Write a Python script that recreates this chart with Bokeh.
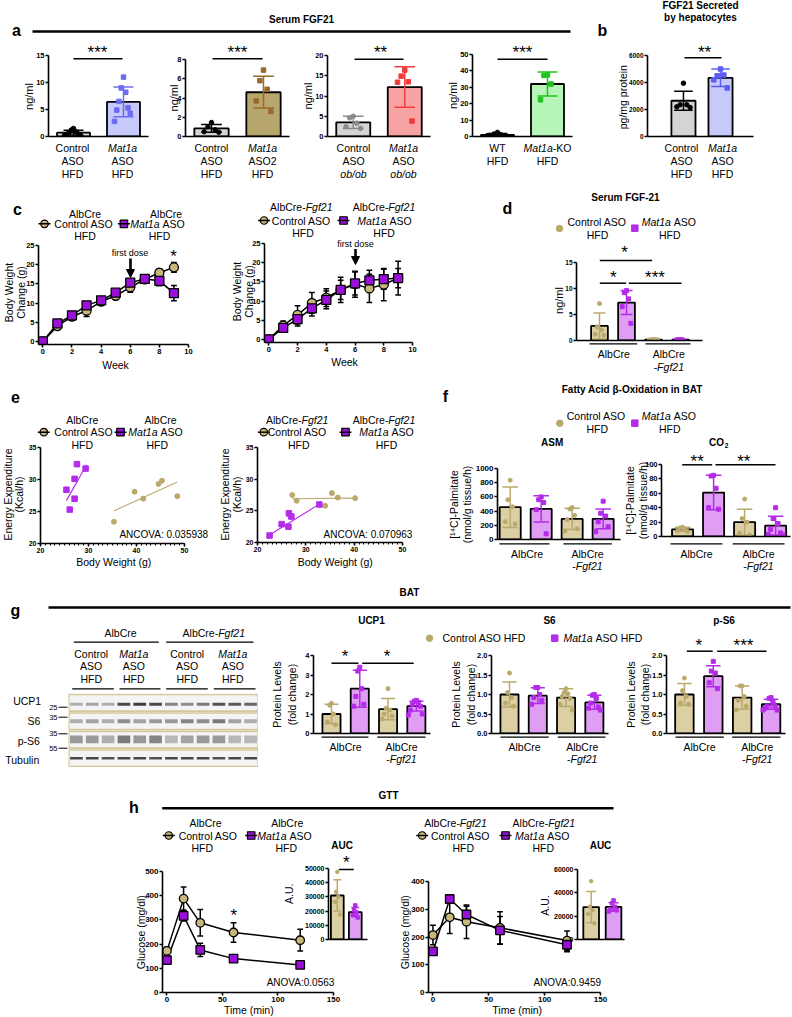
import math
from bokeh.plotting import figure
from bokeh.models import Range1d, FixedTicker, Arrow, NormalHead
from bokeh.layouts import column
from bokeh.embed import file_html
from bokeh.resources import INLINE
from bokeh.core.properties import value

# ======================= DATA =======================
# panel a  (Serum FGF21, ng/ml)
a1_means = [0.7, 6.4]; a1_sd = [0.45, 2.75]
a1_ctrl = [1.5, 1.2, 0.9, 0.7, 0.5, 0.4, 0.3, 0.2]
a1_mat = [11.0, 9.0, 8.2, 6.5, 5.3, 4.9, 4.3, 2.8]
a1_yticks = [0, 5, 10, 15]
a2_means = [0.85, 4.6]; a2_sd = [0.4, 1.65]
a2_ctrl = [1.45, 1.0, 0.7, 0.5, 0.45]
a2_mat = [6.9, 5.8, 4.9, 3.7, 2.6]
a2_yticks = [0, 2, 4, 6, 8]
a3_means = [3.5, 12.2]; a3_sd = [1.5, 5.0]
a3_ctrl = [5.0, 4.6, 3.3, 2.4, 2.0]
a3_mat = [16.4, 14.9, 13.5, 13.4, 3.8]
a3_yticks = [0, 5, 10, 15, 20]
a4_means = [1.0, 32.0]; a4_sd = [0.8, 7.3]
a4_ctrl = [2.5, 1.5, 1.0, 0.6, 0.5, 0.4]
a4_mat = [37.6, 37.2, 32.0, 22.4]
a4_yticks = [0, 10, 20, 30, 40, 50]
# panel b (pg/mg protein)
b_means = [2650, 4350]; b_sd = [700, 650]
b_ctrl = [3950, 2350, 2350, 2200, 2150]
b_mat = [5000, 4500, 4550, 4200, 3600]
b_yticks = [0, 2000, 4000, 6000]
# panel c (body weight change, g)
c_weeks = [0, 1, 2, 3, 4, 5, 6, 7, 8, 9]
c1_ctrl = [0, 4.0, 6.5, 8.0, 10.4, 11.9, 14.1, 16.2, 17.9, 19.3]
c1_ctrl_err = [0, 0.5, 1.0, 1.5, 0.8, 1.0, 1.3, 0.6, 1.0, 1.3]
c1_mat = [0, 4.7, 6.8, 9.4, 10.7, 12.7, 15.3, 16.3, 15.8, 12.6]
c1_mat_err = [0, 0.4, 0.6, 0.7, 0.6, 0.7, 0.8, 0.6, 1.3, 2.0]
c2_ctrl = [0, 3.6, 6.4, 9.5, 10.9, 12.9, 14.4, 13.3, 14.3, 16.0]
c2_ctrl_err = [0, 1.2, 2.4, 2.7, 2.3, 3.3, 3.4, 3.7, 4.2, 4.4]
c2_mat = [0, 3.0, 5.3, 8.1, 10.3, 12.9, 14.6, 15.4, 15.7, 16.0]
c2_mat_err = [0, 1.0, 1.8, 2.0, 2.3, 2.5, 3.0, 2.6, 2.6, 2.5]
c_yticks = [0, 5, 10, 15, 20, 25]
c_xticks = [0, 2, 4, 6, 8, 10]
# panel d (Serum FGF-21, ng/ml): AlbCre ctrl, AlbCre Mat1a, Fgf21 ctrl, Fgf21 Mat1a
d_means = [2.8, 7.3, 0.15, 0.15]; d_sd = [2.5, 2.3, 0.05, 0.05]
d_pts = [[7.1, 2.6, 2.0, 1.2, 1.0], [9.6, 9.2, 8.0, 6.5, 3.3],
         [0.2, 0.15, 0.15, 0.1, 0.1], [0.15, 0.15, 0.1, 0.1]]
d_yticks = [0, 5, 10, 15]
# panel e (energy expenditure vs body weight)
e1_ctrl_x = [35.3, 39.6, 41.4, 44.6, 45.3, 48.5]; e1_ctrl_y = [23.4, 28.1, 27.0, 29.3, 29.8, 27.4]
e1_mat_x = [25.4, 26.1, 27.1, 27.1, 27.6, 29.4]; e1_mat_y = [28.4, 25.3, 30.1, 27.0, 32.4, 31.7]
e1_ctrl_fit_x = [35.3, 48.5]; e1_ctrl_fit_y = [25.1, 29.6]
e1_mat_fit_x = [25.4, 29.6]; e1_mat_fit_y = [26.7, 32.3]
e2_ctrl_x = [27.2, 28.1, 34.0, 35.4, 36.6, 40.2]; e2_ctrl_y = [27.5, 26.6, 25.8, 27.8, 27.1, 27.0]
e2_mat_x = [22.5, 25.0, 26.4, 26.5, 27.0, 32.8]; e2_mat_y = [21.1, 22.9, 22.5, 24.6, 24.1, 26.0]
e2_ctrl_fit_x = [27.2, 40.2]; e2_ctrl_fit_y = [26.9, 27.0]
e2_mat_fit_x = [22.3, 32.9]; e2_mat_fit_y = [21.1, 26.1]
e_yticks = [20, 25, 30, 35]
e_xticks = [20, 30, 40, 50]
# panel f (fatty acid oxidation)
asm_means = [455, 430, 290, 290]; asm_sd = [285, 185, 150, 140]
asm_pts = [[835, 560, 460, 250, 220], [600, 560, 520, 420, 80],
           [450, 430, 340, 280, 150, 120], [540, 370, 330, 250, 180, 110]]
asm_yticks = [0, 200, 400, 600, 800, 1000]
co2_means = [10, 61, 20, 15]; co2_sd = [3, 24, 18, 13]
co2_pts = [[13, 12, 10, 8, 7], [85, 84, 67, 40, 38], [52, 25, 20, 5, 2], [40, 25, 18, 10, 5, 3, 2]]
co2_yticks = [0, 20, 40, 60, 80, 100]
# panel g (BAT western blot quantification)
ucp1_means = [1.0, 2.3, 1.25, 1.4]; ucp1_sd = [0.5, 0.95, 0.55, 0.25]
ucp1_pts = [[1.55, 1.45, 1.0, 0.6, 0.45], [3.4, 3.2, 2.3, 1.9, 1.5, 1.4],
            [2.3, 1.3, 1.2, 1.0, 0.9, 0.75], [1.7, 1.65, 1.6, 1.5, 1.4, 1.2, 1.0, 0.95]]
ucp1_yticks = [0, 1, 2, 3, 4]
s6_means = [1.0, 0.97, 0.92, 0.8]; s6_sd = [0.32, 0.2, 0.23, 0.18]
s6_pts = [[1.55, 1.05, 0.92, 0.78, 0.7], [1.18, 1.18, 1.0, 0.92, 0.85, 0.75],
          [1.15, 1.05, 1.02, 0.95, 0.9, 0.75, 0.6], [1.0, 0.98, 0.9, 0.78, 0.68, 0.65, 0.6]]
ps6_means = [1.0, 1.47, 0.92, 0.75]; ps6_sd = [0.28, 0.27, 0.3, 0.13]
ps6_pts = [[1.42, 1.1, 0.95, 0.78, 0.75], [1.85, 1.6, 1.55, 1.3, 1.15],
           [1.22, 1.22, 0.95, 0.85, 0.7, 0.6], [0.92, 0.9, 0.8, 0.7, 0.7, 0.65, 0.6, 0.6]]
fold_yticks = [0, 0.5, 1.0, 1.5, 2.0]
fold_ylabels = ["0.0", "0.5", "1.0", "1.5", "2.0"]
blot_ucp1 = [0.35, 0.4, 0.35, 0.85, 0.9, 0.85, 0.55, 0.5, 0.6, 0.8, 0.75, 0.7]
blot_s6 = [0.35, 0.4, 0.35, 0.5, 0.4, 0.45, 0.45, 0.55, 0.5, 0.6, 0.4, 0.35]
blot_ps6 = [0.45, 0.45, 0.35, 0.6, 0.45, 0.55, 0.3, 0.4, 0.45, 0.45, 0.3, 0.3]
blot_tub = [0.85, 0.85, 0.8, 0.85, 0.85, 0.8, 0.85, 0.85, 0.85, 0.8, 0.85, 0.85]
# panel h (GTT)
h_t = [0, 15, 30, 60, 120]
h1_ctrl = [172, 388, 288, 248, 216]; h1_ctrl_err = [15, 48, 55, 40, 45]
h1_mat = [134, 317, 176, 140, 114]; h1_mat_err = [10, 22, 27, 12, 8]
h2_ctrl = [207, 271, 255, 233, 187]; h2_ctrl_err = [35, 58, 60, 58, 35]
h2_mat = [148, 337, 281, 224, 172]; h2_mat_err = [10, 12, 30, 50, 25]
h1_yticks = [0, 100, 200, 300, 400, 500]
h2_yticks = [0, 100, 200, 300, 400]
h_xticks = [0, 50, 100, 150]
auc1_means = [31000, 19300]; auc1_sd = [11000, 3200]
auc1_pts = [[47600, 33600, 30000, 26500, 17600], [24000, 21000, 19000, 17500, 15500]]
auc1_yticks = [0, 10000, 20000, 30000, 40000, 50000]
auc2_means = [27800, 27900]; auc2_sd = [13400, 3700]
auc2_pts = [[50000, 28000, 25000, 22000, 14000], [33500, 31000, 28000, 26000, 25000, 24000]]
auc2_yticks = [0, 20000, 40000, 60000]

# ======================= STYLE =======================
FONT = "Liberation Sans"
W, H = 792, 1017
RW, RH = 792.0, 1017.0
SX, SY = W / RW, H / RH
N, I, B = "normal", "italic", "bold"

GRAY = "#d4d4d4"
TAN_FILL = "#dad0a3"; TAN_PT = "#bba96c"; TAN_MK = "#c8b77b"
PUR_FILL = "#e09df4"; PUR_PT = "#b42ce8"; PUR_MK = "#9b10d8"

AW = {' ': 278, '-': 333, '/': 278, '(': 333, ')': 333, '.': 278, ':': 278, '[': 278, ']': 278,
      'A': 667, 'B': 667, 'C': 722, 'D': 722, 'E': 667, 'F': 611, 'G': 778, 'H': 722, 'I': 278,
      'K': 667, 'L': 556, 'M': 833, 'N': 722, 'O': 778, 'P': 667, 'R': 722, 'S': 667, 'T': 611,
      'U': 722, 'V': 667, 'W': 944, 'a': 556, 'b': 556, 'c': 500, 'd': 556, 'e': 556, 'f': 278,
      'g': 556, 'h': 556, 'i': 222, 'j': 222, 'k': 500, 'l': 222, 'm': 833, 'n': 556, 'o': 556,
      'p': 556, 'q': 556, 'r': 333, 's': 500, 't': 278, 'u': 556, 'v': 500, 'w': 722, 'x': 500,
      'y': 500, 'z': 500}

# ---------------- decoration layer (texts, headers, legends) ----------------
deco = figure(width=W, height=H, x_range=Range1d(0, RW), y_range=Range1d(RH, 0),
              output_backend="svg", toolbar_location=None, title=None,
              min_border_left=0, min_border_right=0, min_border_top=0, min_border_bottom=0,
              x_axis_type=None, y_axis_type=None, frame_align=False)
deco.outline_line_color = None
deco.background_fill_color = "white"
deco.border_fill_color = "white"

_texts = {}
_segs = {}


def T(x, y, s, size=10.5, style=N, align="center", angle=0.0, color="black"):
    d = _texts.setdefault((size, style, align, angle, color), {"x": [], "y": [], "t": []})
    d["x"].append(x); d["y"].append(y); d["t"].append(s)


def SEG(x0, y0, x1, y1, w=1.4, color="black"):
    d = _segs.setdefault((w, color), {"x0": [], "y0": [], "x1": [], "y1": []})
    d["x0"].append(x0); d["y0"].append(y0); d["x1"].append(x1); d["y1"].append(y1)


def tw(s, size):
    return sum(AW.get(ch, 556) for ch in s) / 1000.0 * size / SX


def R(x, y, parts, size=10.5, align="center", color="black"):
    if isinstance(parts, str):
        parts = [(parts, N)]
    if len(parts) == 1 and align == "center":
        T(x, y, parts[0][0], size, parts[0][1], "center", color=color)
        return
    total = sum(tw(s, size) for s, _ in parts)
    cx = x - total / 2.0 if align == "center" else x
    for s, st in parts:
        lead = len(s) - len(s.lstrip(" "))
        cx += tw(" " * lead, size)
        core = s.strip(" ")
        T(cx, y, core, size, st, "left", color=color)
        cx += tw(core, size)


def stack(xc, y0, rows, dy=13.0, size=10.5):
    for k, parts in enumerate(rows):
        R(xc, y0 + k * dy, parts, size)


def STAR(x, y, s, size=17):
    T(x, y + 0.24 * size, s, size)


def SIG(x0, x1, yl, xs, ys, s):
    SEG(x0, yl, x1, yl, 1.5)
    STAR(xs, ys, s)


def LM(x, y, marker, fill, line=True, size=7.5):
    if line:
        SEG(x - 6, y, x + 6, y, 1.4)
        deco.scatter(x=[x], y=[y], marker=marker, size=size, fill_color=fill,
                     line_color="black", line_width=1.2)
    else:
        deco.scatter(x=[x], y=[y], marker=marker, size=size, fill_color=fill, line_color=fill)


def LETTER(x, y, s):
    T(x, y, s, 16, B)


def YL(x, y, s, size=10.5):
    T(x, y, s, size, angle=math.pi / 2)


MAT_ASO = [("Mat1a", I), (" ASO", N)]
ALB_FGF = [("AlbCre-", N), ("Fgf21", I)]
MFGF = [("-", N), ("Fgf21", I)]
CAH = ["Control", "ASO", "HFD"]
MAH = [[("Mat1a", I)], "ASO", "HFD"]

# ---- Row A header
T(700, 5, "FGF21 Secreted", 10, B)
T(700, 17, "by hepatocytes", 10, B)
T(301, 19, "Serum FGF21", 10, B)
SEG(32, 31, 570, 31, 2.6)
LETTER(16, 30, "a"); LETTER(602, 30, "b")
stack(72, 147, CAH); stack(122, 147, MAH)
stack(211, 147, CAH); stack(262, 147, [[("Mat1a", I)], "ASO2", "HFD"])
stack(353, 147, ["Control", "ASO", [("ob/ob", I)]]); stack(403, 147, [[("Mat1a", I)], "ASO", [("ob/ob", I)]])
stack(497, 147, ["WT", "HFD"]); stack(547, 147, [[("Mat1a", I), ("-KO", N)], "HFD"])
stack(681, 147, CAH); stack(722, 147, MAH)
YL(28, 96, "ng/ml", 11); YL(173, 97.5, "ng/ml", 11); YL(307, 95.5, "ng/ml", 11); YL(452, 95, "ng/ml", 11)
YL(622, 96.7, "pg/mg protein", 10.5)
SIG(73, 122, 58.3, 97, 48.3, "***")
SIG(212, 262, 58.3, 237, 48.3, "***")
SIG(354, 403, 58.7, 380, 48, "**")
SIG(497, 547, 58.7, 522, 48, "***")
SIG(684, 721, 57.3, 704, 48, "**")

# ---- panel c
LETTER(17, 209, "c")
T(84.5, 213.3, "AlbCre"); T(165.6, 213.3, "AlbCre")
LM(44, 223.3, "circle", TAN_MK); T(83.3, 223.3, "Control ASO")
LM(123.4, 223.3, "square", PUR_MK); R(157, 223.3, MAT_ASO)
T(84.5, 235, "HFD"); T(159, 235, "HFD")
YL(8.5, 292, "Body Weight"); YL(20.5, 292, "Change (g)")
T(115, 364.3, "Week")
T(129.5, 252.7, "first dose", 9)
deco.add_layout(Arrow(end=NormalHead(size=8, fill_color="black", line_color="black"),
                      x_start=130, y_start=258, x_end=130, y_end=277, line_width=2.6))
STAR(173, 251.7, "*")
R(300.8, 206.7, ALB_FGF); R(383.5, 206.7, ALB_FGF)
LM(263.6, 220, "circle", TAN_MK); T(300.8, 220, "Control ASO")
LM(343, 220, "square", PUR_MK); R(384, 220, MAT_ASO)
T(302.5, 232.3, "HFD"); T(383.6, 232.3, "HFD")
YL(236.6, 291, "Body Weight"); YL(248.4, 291, "Change (g)")
T(344, 361.7, "Week")
T(355, 243.3, "first dose", 9)
deco.add_layout(Arrow(end=NormalHead(size=8, fill_color="black", line_color="black"),
                      x_start=355, y_start=248.5, x_end=355, y_end=264, line_width=2.6))

# ---- panel d
LETTER(507, 208, "d")
T(625, 197, "Serum FGF-21", 10, B)
LM(559, 228, "circle", TAN_PT, line=False, size=6.5); T(596.5, 221.7, "Control ASO"); T(597, 234, "HFD")
LM(634.3, 227.7, "square", PUR_PT, line=False, size=6.5); R(668.3, 221.7, MAT_ASO); T(669.3, 234, "HFD")
YL(558, 300, "ng/ml", 11)
SIG(599.3, 651.7, 260, 624, 248.3, "*")
SIG(599.3, 625.7, 282.7, 612.7, 272.7, "*")
SIG(628.3, 681, 282.7, 654.5, 272.7, "***")
SEG(589, 343.3, 636.7, 343.3, 1.2); SEG(645, 343.3, 690, 343.3, 1.2)
T(613.3, 353.3, "AlbCre"); T(668.3, 353.3, "AlbCre"); R(668.3, 366.7, MFGF)

# ---- panel e
LETTER(15, 396, "e")
T(81.7, 419.3, "AlbCre"); T(160, 419.3, "AlbCre")
LM(43.3, 431.7, "circle", TAN_MK); T(83.3, 431.7, "Control ASO")
LM(120, 431.7, "square", PUR_MK); R(155, 431.7, MAT_ASO)
T(81.7, 444, "HFD"); T(156.7, 444, "HFD")
YL(7, 494, "Energy Expenditure"); YL(18.5, 494, "(Kcal/h)")
T(113.3, 561.7, "Body Weight (g)")
T(163.3, 534, "ANCOVA: 0.035938", 10)
R(296.7, 419.3, ALB_FGF); R(383.5, 419.3, ALB_FGF)
LM(263.3, 431.7, "circle", TAN_MK); T(296.7, 431.7, "Control ASO")
LM(345, 431.7, "square", PUR_MK); R(386, 431.7, MAT_ASO)
T(298.3, 444, "HFD"); T(386, 444, "HFD")
YL(224, 494, "Energy Expenditure"); YL(236.5, 494, "(Kcal/h)")
T(334.7, 561.7, "Body Weight (g)")
T(367.5, 534, "ANCOVA: 0.070963", 10)

# ---- panel f
LETTER(445, 396, "f")
T(631.7, 389, "Fatty Acid \u03b2-Oxidation in BAT", 10, B)
LM(559.3, 422.7, "circle", TAN_PT, line=False, size=6.5); T(595.7, 415.7, "Control ASO"); T(596.7, 428.3, "HFD")
LM(634.3, 422.7, "square", PUR_PT, line=False, size=6.5); R(668.3, 415.7, MAT_ASO); T(669.3, 428.3, "HFD")
T(551.7, 442.3, "ASM", 10, B)
T(716, 442.3, "CO", 10, B); T(724.3, 445.3, "2", 6.5, B, align="left")
YL(453, 504, "[\u00b9\u2074C]-Palmitate"); YL(466, 504, "(nmol/g tissue/h)")
YL(629.5, 500, "[\u00b9\u2074C]-Palmitate"); YL(642.5, 500, "(nmol/g tissue/h)")
SEG(499, 543.3, 549, 543.3, 1.2); SEG(562.9, 543.3, 611.3, 543.3, 1.2)
T(526.6, 553.3, "AlbCre"); T(587, 553.3, "AlbCre"); R(587, 565, MFGF)
SEG(670, 543.3, 721.9, 543.3, 1.2); SEG(732.2, 543.3, 784, 543.3, 1.2)
T(696, 553.3, "AlbCre"); T(758, 553.3, "AlbCre"); R(758, 565, MFGF)
SIG(681.7, 711.7, 464.3, 696.7, 456.7, "**")
SIG(715, 775, 464.3, 743.3, 456.7, "**")

# ---- panel g
LETTER(15, 610, "g")
SEG(48, 607, 790, 607, 2.6)
T(409, 592, "BAT", 10, B)
T(120, 632.7, "AlbCre"); R(213.3, 632.7, ALB_FGF)
SEG(73.3, 641.7, 158.3, 641.7, 1.2); SEG(165.7, 641.7, 253, 641.7, 1.2)
stack(90.7, 653.3, CAH, dy=12.5); stack(133.3, 653.3, MAH, dy=12.5)
stack(186.7, 653.3, CAH, dy=12.5); stack(232.3, 653.3, MAH, dy=12.5)
for x0, x1 in [(71.7, 113.3), (119, 160), (165.7, 207.3), (213.3, 255)]:
    SEG(x0, 688.3, x1, 688.3, 1.2)
T(26.7, 700.7, "UCP1"); T(33.3, 720, "S6"); T(28.3, 740, "p-S6"); T(21.7, 759, "Tubulin")
for yv, s in [(706.7, "25"), (716.7, "35"), (733.3, "35"), (747.7, "55")]:
    T(57, yv, s, 7.5, align="right")
    SEG(58, yv, 67, yv, 1.0)
T(371, 620, "UCP1", 10, B); T(549, 620, "S6", 10, B); T(723.6, 620, "p-S6", 10, B)
LM(429, 637.7, "circle", TAN_PT, line=False, size=6.5); T(442, 637.7, "Control ASO HFD", align="left")
LM(554.2, 637.7, "square", PUR_PT, line=False, size=6.5)
R(563, 637.7, [("Mat1a", I), (" ASO HFD", N)], align="left")
for xa, xb in [(276, 291), (455.5, 470.5), (630, 644)]:
    YL(xa, 694, "Protein Levels"); YL(xb, 694, "(fold change)")
for (x0, x1), (x2, x3), ca, cb in [((321, 368), (376.7, 425), 345, 401),
                                   ((500, 548.3), (557.3, 605), 524, 581.7),
                                   ((675, 723.3), (731.7, 780), 699, 756.7)]:
    SEG(x0, 736.7, x1, 736.7, 1.2); SEG(x2, 736.7, x3, 736.7, 1.2)
    T(ca, 746.7, "AlbCre"); T(cb, 746.7, "AlbCre"); R(cb, 758.3, MFGF)
SIG(331, 358, 662.7, 344.5, 651.7, "*")
SIG(361.7, 413.2, 662.7, 386.6, 651.7, "*")
SIG(686.3, 712.2, 650.7, 698.4, 640.7, "*")
SIG(716.7, 766, 650.7, 743, 640.7, "***")

# ---- panel h
LETTER(133.3, 806.7, "h")
SEG(161.7, 807.7, 613, 807.7, 2.6)
T(388, 795, "GTT", 10, B)
T(205, 822.3, "AlbCre"); T(286.7, 822.3, "AlbCre")
LM(168.3, 835, "circle", TAN_MK); T(207.6, 835, "Control ASO")
LM(250.7, 835, "square", PUR_MK); R(284, 835, MAT_ASO)
T(201.7, 847.7, "HFD"); T(285.7, 847.7, "HFD")
YL(140, 931.7, "Glucose (mg/dl)")
T(248.3, 1009, "Time (min)")
T(300, 982.3, "ANOVA:0.0563", 10)
STAR(233.3, 911, "*")
T(341.7, 845, "AUC", 10, B)
SIG(338.3, 353.3, 869, 345.7, 858, "*")
YL(288, 893.3, "A.U.")
R(455, 822.3, ALB_FGF); R(543.3, 822.3, ALB_FGF)
LM(421.7, 835, "circle", TAN_MK); T(460, 835, "Control ASO")
LM(505, 835, "square", PUR_MK); R(541.7, 835, MAT_ASO)
T(462.7, 847.7, "HFD"); T(542.7, 847.7, "HFD")
YL(404, 931.7, "Glucose (mg/dl)")
T(516.7, 1009, "Time (min)")
T(566.7, 982.3, "ANOVA:0.9459", 10)
T(600, 845, "AUC", 10, B)
YL(544, 905, "A.U.")

# ======================= chart figures =======================
placed = []


def make_fig(fx0, fy0, fx1, fy1, xr, yr, pad=(10, 10, 22, 46), axes=True, fs="8px"):
    X0, X1 = round(fx0 * SX), round(fx1 * SX)
    Y0, Y1 = round(fy0 * SY), round(fy1 * SY)
    t, r, b, l = pad
    t = min(t, Y0); l = min(l, X0); r = max(0, min(r, W - X1)); b = max(0, min(b, H - Y1))
    kw = dict(width=X1 - X0 + l + r, height=Y1 - Y0 + t + b,
              x_range=Range1d(*xr), y_range=Range1d(*yr),
              output_backend="svg", toolbar_location=None, title=None, frame_align=False,
              min_border_left=l, min_border_right=r, min_border_top=t, min_border_bottom=b)
    if not axes:
        kw.update(x_axis_type=None, y_axis_type=None)
    p = figure(**kw)
    p.outline_line_color = None
    p.background_fill_alpha = 0.0
    p.border_fill_alpha = 0.0
    if axes:
        p.xgrid.visible = False
        p.ygrid.visible = False
        for ax in list(p.xaxis) + list(p.yaxis):
            ax.axis_line_width = 1.6
            ax.axis_line_color = "black"
            ax.major_tick_line_width = 1.6
            ax.major_tick_line_color = "black"
            ax.major_tick_out = 3
            ax.major_tick_in = 0
            ax.minor_tick_out = 0
            ax.minor_tick_in = 0
            ax.major_label_text_font = FONT
            ax.major_label_text_font_style = "bold"
            ax.major_label_text_font_size = fs
            ax.major_label_text_color = "black"
            ax.major_label_standoff = 1
    placed.append((p, X0 - l, Y0 - t))
    return p


def yticks(p, ticks, labels=None):
    p.yaxis.ticker = FixedTicker(ticks=ticks)
    p.yaxis.major_label_overrides = {tk: (labels[i] if labels else str(tk)) for i, tk in enumerate(ticks)}


def xticks(p, ticks=None, minor=None):
    if ticks is None:
        p.xaxis.ticker = FixedTicker(ticks=[])
        p.xaxis.major_tick_out = 0
    else:
        p.xaxis.ticker = FixedTicker(ticks=ticks, minor_ticks=minor or [])
        p.xaxis.major_label_overrides = {tk: str(tk) for tk in ticks}
        if minor:
            p.xaxis.minor_tick_out = 2
            p.xaxis.minor_tick_line_width = 1.0
            p.xaxis.minor_tick_line_color = "black"


def offsets(n, step):
    return [((i + 1) // 2) * step * (-1 if i % 2 else 1) for i in range(n)]


def barplot(p, xs, means, sds, pts, fills, pcols, ecols, markers, bw, cap, psize=4.5, step=0.06):
    p.vbar(x=xs, top=means, width=bw, bottom=0, fill_color=fills, line_color="black", line_width=1.8)
    for x, m, s, pl, pc, ec, mk in zip(xs, means, sds, pts, pcols, ecols, markers):
        off = offsets(len(pl), step)
        p.scatter(x=[x + o for o in off], y=pl, marker=mk, size=psize, fill_color=pc, line_color=pc)
        lo, hi = m - s, m + s
        p.segment(x0=[x, x - cap, x - cap], y0=[lo, lo, hi], x1=[x, x + cap, x + cap], y1=[hi, lo, hi],
                  line_color=ec, line_width=1.5)


def errs(p, xs, ys, es, cap):
    lo = [y - e for y, e in zip(ys, es)]
    hi = [y + e for y, e in zip(ys, es)]
    p.segment(x0=xs, y0=lo, x1=xs, y1=hi, line_color="black", line_width=1.5)
    p.segment(x0=[x - cap for x in xs], y0=hi, x1=[x + cap for x in xs], y1=hi, line_color="black", line_width=1.5)
    p.segment(x0=[x - cap for x in xs], y0=lo, x1=[x + cap for x in xs], y1=lo, line_color="black", line_width=1.5)


def linepair(p, xs, c, ce, m, me, cap, size=8.5):
    errs(p, xs, c, ce, cap)
    errs(p, xs, m, me, cap)
    p.line(xs, c, line_color="black", line_width=1.5)
    p.line(xs, m, line_color="black", line_width=1.5)
    p.scatter(xs, c, marker="circle", size=size, fill_color=TAN_MK, line_color="black", line_width=1.3)
    p.scatter(xs, m, marker="square", size=size, fill_color=PUR_MK, line_color="black", line_width=1.3)


# ---- panel a
a_specs = [
    ((48.3, 55, 148, 136), (0, 2), (0, 15), a1_yticks, a1_means, a1_sd, [a1_ctrl, a1_mat],
     [GRAY, "#c7c9fa"], ["black", "#6a6df2"], ["black", "#6a6df2"], 0.045),
    ((185, 59.3, 289, 136), (0, 2), (0, 8), a2_yticks, a2_means, a2_sd, [a2_ctrl, a2_mat],
     [GRAY, "#b8a76d"], ["black", "#9a6a2a"], ["black", "#9a6a2a"], 0.07),
    ((326.7, 55, 430, 136), (0, 2), (0, 20), a3_yticks, a3_means, a3_sd, [a3_ctrl, a3_mat],
     [GRAY, "#f8a3a3"], ["#8a8a8a", "#f03c3c"], ["#8a8a8a", "#f03c3c"], 0.07),
    ((471.7, 54, 572, 136), (0, 2), (0, 50), a4_yticks, a4_means, a4_sd, [a4_ctrl, a4_mat],
     [GRAY, "#b7f4b7"], ["black", "#1ec41e"], ["black", "#1ec41e"], 0.07),
]
for frame, xr, yr, yt, mn, sd, pts, fills, pc, ec, st in a_specs:
    p = make_fig(*frame, xr, yr, fs="7.5px")
    yticks(p, yt); xticks(p)
    barplot(p, [0.5, 1.5], mn, sd, pts, fills, pc, ec, ["circle", "square"], 0.66, 0.2, step=st)

p = make_fig(647, 55, 753, 136, (-0.47, 2.39), (0, 6000), pad=(10, 10, 22, 40), fs="6.5px")
yticks(p, b_yticks); xticks(p)
barplot(p, [0.5, 1.5], b_means, b_sd, [b_ctrl, b_mat], [GRAY, "#c7c9fa"], ["black", "#5a5ef0"],
        ["black", "#5a5ef0"], ["circle", "square"], 0.65, 0.25, step=0.09)

# ---- panel c
p = make_fig(38.3, 245, 188.3, 343.6, (-0.3, 10), (-0.8, 25), fs="7.5px")
yticks(p, c_yticks); xticks(p, c_xticks)
linepair(p, c_weeks, c1_ctrl, c1_ctrl_err, c1_mat, c1_mat_err, 0.2, size=9)
p = make_fig(264, 242.7, 412, 342.1, (-0.3, 10), (-0.8, 25), fs="7.5px")
yticks(p, c_yticks); xticks(p, c_xticks)
linepair(p, c_weeks, c2_ctrl, c2_ctrl_err, c2_mat, c2_mat_err, 0.2, size=9)

# ---- panel d
p = make_fig(576, 261.7, 702, 339.6, (0.15, 4.81), (0, 15), fs="6.5px")
yticks(p, d_yticks); xticks(p)
barplot(p, [1, 2, 3, 4], d_means, d_sd, d_pts, [TAN_FILL, PUR_FILL, TAN_FILL, PUR_FILL],
        [TAN_PT, PUR_PT, TAN_PT, PUR_PT], [TAN_PT, PUR_PT, TAN_PT, PUR_PT],
        ["circle", "square", "circle", "square"], 0.62, 0.22, psize=4, step=0.08)

# ---- panel e
for frame, cx, cy, mx, my, cfx, cfy, mfx, mfy in [
        ((40, 447, 184, 543), e1_ctrl_x, e1_ctrl_y, e1_mat_x, e1_mat_y,
         e1_ctrl_fit_x, e1_ctrl_fit_y, e1_mat_fit_x, e1_mat_fit_y),
        ((257, 447, 402.2, 542), e2_ctrl_x, e2_ctrl_y, e2_mat_x, e2_mat_y,
         e2_ctrl_fit_x, e2_ctrl_fit_y, e2_mat_fit_x, e2_mat_fit_y)]:
    p = make_fig(*frame, (20, 50), (20, 35), fs="7px")
    yticks(p, e_yticks); xticks(p, e_xticks, minor=list(range(20, 51)))
    p.line(cfx, cfy, line_color=TAN_PT, line_width=1.1)
    p.line(mfx, mfy, line_color=PUR_PT, line_width=1.1)
    p.scatter(cx, cy, marker="circle", size=5, fill_color=TAN_PT, line_color=TAN_PT)
    p.scatter(mx, my, marker="square", size=5.5, fill_color=PUR_PT, line_color=PUR_PT)

# ---- panel f
FILL4 = [TAN_FILL, PUR_FILL, TAN_FILL, PUR_FILL]
PT4 = [TAN_PT, PUR_PT, TAN_PT, PUR_PT]
MK4 = ["circle", "square", "circle", "square"]
p = make_fig(496.7, 468.3, 620, 538.7, (0.59, 4.56), (0, 1000), pad=(10, 8, 22, 40), fs="8px")
yticks(p, asm_yticks); xticks(p)
barplot(p, [1, 2, 3, 4], asm_means, asm_sd, asm_pts, FILL4, PT4, PT4, MK4, 0.68, 0.25, psize=4, step=0.08)
p = make_fig(661, 464.3, 790, 535.7, (0.32, 4.48), (0, 100), pad=(10, 8, 22, 40), fs="7.5px")
yticks(p, co2_yticks); xticks(p)
barplot(p, [1, 2, 3, 4], co2_means, co2_sd, co2_pts, FILL4, PT4, PT4, MK4, 0.68, 0.25, psize=4, step=0.08)

# ---- panel g : blot
blot = make_fig(68.3, 692.7, 258.3, 766.7, (0, 12), (3.5, -0.5), pad=(0, 0, 0, 0), axes=False)
blot.rect(x=[6, 6, 6, 6], y=[0, 1, 2, 3], width=11.96, height=0.9, fill_color="#f4f4f4",
          line_color="#d3c89a", line_width=1.6)
lanes = [i + 0.5 for i in range(12)]
for row, inten, dy, hh in [(0, blot_ucp1, 0.08, 0.17), (1, blot_s6, 0.0, 0.22),
                           (2, blot_ps6, -0.02, 0.42), (3, blot_tub, 0.0, 0.13)]:
    blot.rect(x=lanes, y=[row + dy] * 12, width=0.8, height=hh, fill_color="#2a2a2a",
              fill_alpha=inten, line_color=None)

# ---- panel g : quantification
for frame, xr, yr, yt, yl, mn, sd, pts in [
        ((313, 655, 430, 733), (0.364, 4.5), (0, 4), ucp1_yticks, None, ucp1_means, ucp1_sd, ucp1_pts),
        ((491, 655, 608, 733), (0.364, 4.5), (0, 2), fold_yticks, fold_ylabels, s6_means, s6_sd, s6_pts),
        ((666, 655, 785, 733), (0.38, 4.5), (0, 2), fold_yticks, fold_ylabels, ps6_means, ps6_sd, ps6_pts)]:
    p = make_fig(*frame, xr, yr, pad=(10, 8, 22, 36), fs="7.5px")
    yticks(p, yt, yl); xticks(p)
    barplot(p, [1, 2, 3, 4], mn, sd, pts, FILL4, PT4, PT4, MK4, 0.64, 0.25, psize=4, step=0.07)

# ---- panel h
p = make_fig(162.2, 870.7, 333.3, 991.7, (-4, 150), (0, 500), fs="8px")
yticks(p, h1_yticks); xticks(p, h_xticks)
linepair(p, h_t, h1_ctrl, h1_ctrl_err, h1_mat, h1_mat_err, 2.6)
p = make_fig(328.3, 868.3, 366.7, 939.3, (0.51, 2.68), (0, 50000), pad=(8, 8, 6, 34), fs="7px")
yticks(p, auc1_yticks); xticks(p)
barplot(p, [1, 2], auc1_means, auc1_sd, auc1_pts, [TAN_FILL, PUR_FILL], [TAN_PT, PUR_PT],
        [TAN_PT, PUR_PT], ["circle", "square"], 0.71, 0.22, psize=3.5, step=0.07)
p = make_fig(427.8, 881, 600, 991.7, (-4, 150), (0, 400), fs="8px")
yticks(p, h2_yticks); xticks(p, h_xticks)
linepair(p, h_t, h2_ctrl, h2_ctrl_err, h2_mat, h2_mat_err, 2.6)
p = make_fig(576.7, 869, 624, 939.3, (0.39, 2.49), (0, 60000), pad=(8, 8, 6, 34), fs="7px")
yticks(p, auc2_yticks); xticks(p)
barplot(p, [1, 2], auc2_means, auc2_sd, auc2_pts, [TAN_FILL, PUR_FILL], [TAN_PT, PUR_PT],
        [TAN_PT, PUR_PT], ["circle", "square"], 0.7, 0.22, psize=3.5, step=0.07)

# ---------------- flush decoration glyphs ----------------
for (w, color), d in _segs.items():
    deco.segment(x0=d["x0"], y0=d["y0"], x1=d["x1"], y1=d["y1"], line_color=color, line_width=w)
for (size, style, align, angle, color), d in _texts.items():
    deco.text(x=d["x"], y=d["y"], text=d["t"], text_font=value(FONT), text_font_size=f"{size}px",
              text_font_style=style, text_align=align, text_baseline="middle", angle=angle,
              text_color=color)

# ---------------- absolute placement through margins ----------------
deco.margin = (0, 0, 0, 0)
prev_end = H
children = [deco]
for fig, x, y in placed:
    fig.margin = (y - prev_end, 0, 0, x)
    prev_end = y + fig.height
    children.append(fig)

layout = column(*children, spacing=0)
open("out.html", "w").write(file_html(layout, INLINE, "Figure"))
